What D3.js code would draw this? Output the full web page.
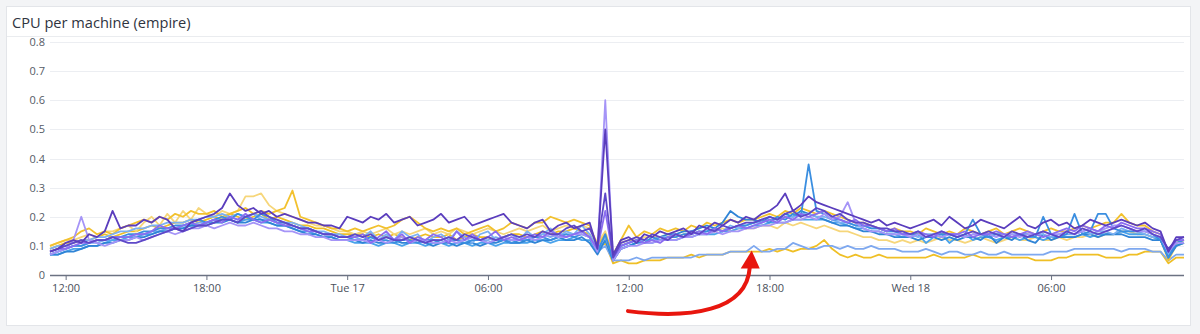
<!DOCTYPE html>
<html>
<head>
<meta charset="utf-8">
<script src="https://cdn.jsdelivr.net/npm/d3@7"></script>
<style>
  html, body { margin: 0; padding: 0; background: #f3f4f6; }
  svg { display: block; }
</style>
</head>
<body>
<svg id="chart" width="1200" height="334"></svg>
<script>
// ---------- DATA (CPU values in percent, one sample every 20 minutes) ----------
const title = "CPU per machine (empire)";
const startTime = new Date(2019, 8, 16, 11, 20); // Mon 16, 11:20
const stepMinutes = 20;
const yTicks = [0, 0.1, 0.2, 0.3, 0.4, 0.5, 0.6, 0.7, 0.8];

const seriesNames = ["m01","m02","m03","m04","m05","m06","m07","m08","m09","m10","m11","m12"];
const seriesColors = ["#5a3dbd","#5e48c8","#8b6df0","#a594f7","#3a8ee0","#7bb0f2","#4aa3ec","#f2c12e","#f6d67a","#7ea8ef","#efbf25","#2f84d6"];

const cpu01 = [8,9,11,12,11,14,13,15,22,16, 17,17,19,18,20,19,16,15,18,19, 20,21,23,28,24,22,23,21,22,20, 21,20,19,18,18,17,17,16,20,19,
  18,20,19,21,18,19,20,17,18,19, 21,18,19,20,17,18,19,20,21,18, 17,16,18,19,15,17,18,16,17,18, 9,50,7,12,13,11,14,13,15,14,
  15,16,14,17,16,18,17,19,18,20, 19,21,22,24,28,22,24,27,25,24, 23,22,21,20,19,18,19,17,18,17, 16,17,18,19,17,20,18,16,17,19,
  18,17,16,18,20,17,16,18,19,17, 18,16,17,19,18,17,18,19,18,17, 18,16,15,8,13,13];
const cpu02 = [8,9,10,11,12,11,12,12,13,12, 11,11,12,13,14,15,16,15,16,17, 17,18,19,19,18,20,21,22,20,19, 18,17,16,16,15,14,14,13,13,14,
  13,14,12,13,12,12,13,12,11,12, 12,13,12,14,13,12,13,12,13,14, 13,14,13,15,14,14,16,17,15,16, 10,28,6,11,12,13,12,14,13,12,
  14,13,15,14,16,15,17,16,17,18, 18,19,20,19,21,22,20,21,23,22, 20,21,19,18,18,17,16,16,15,15, 14,15,13,14,15,14,13,14,15,14,
  15,14,13,15,14,13,14,15,14,13, 15,14,16,15,14,15,16,17,16,15, 16,14,13,9,12,13];
const cpu03 = [8,9,9,10,11,11,12,12,13,13, 13,14,14,15,17,16,16,17,18,17, 18,19,18,20,19,21,19,18,19,18, 17,17,16,15,15,14,14,13,13,13,
  14,11,13,15,12,14,11,13,12,14, 13,11,15,12,14,12,13,15,12,13, 12,13,14,13,15,14,13,14,15,13, 9,22,6,10,11,12,11,12,11,13,
  14,13,14,15,14,16,15,16,17,16, 17,18,19,18,20,19,21,20,21,22, 20,19,18,19,17,17,16,15,16,14, 14,15,14,13,15,14,14,15,13,14,
  14,15,14,13,14,15,14,13,14,15, 16,15,17,16,15,17,16,18,17,16, 16,15,14,8,12,12];
const cpu04 = [7,8,9,12,20,12,11,10,11,12, 12,13,12,13,14,15,14,15,16,16, 17,16,17,18,17,17,18,17,16,16, 15,15,14,14,13,13,12,12,12,12,
  12,11,12,11,12,13,11,12,12,11, 11,12,11,12,13,12,11,12,13,12, 12,13,12,13,14,13,13,14,14,13, 8,60,5,9,10,10,11,11,12,12,
  12,13,13,14,14,15,14,15,15,16, 16,17,17,18,18,19,19,20,19,21, 19,20,25,18,16,15,15,14,14,14, 13,14,13,14,13,14,14,13,14,14,
  14,13,14,14,13,14,14,15,14,14, 15,14,15,16,15,16,17,17,16,15, 15,14,13,8,11,11];
const cpu05 = [7,8,9,10,10,11,12,12,13,13, 14,14,15,15,16,16,17,17,18,19, 18,19,20,19,21,20,19,21,20,18, 18,17,16,16,15,14,14,13,13,12,
  12,13,12,12,11,12,12,11,12,12, 11,12,12,11,12,12,11,12,12,11, 12,12,13,13,12,13,14,13,14,13, 8,14,5,10,11,12,11,13,12,13,
  13,14,14,15,15,16,15,16,17,17, 18,19,18,20,19,21,20,38,22,21, 19,19,18,17,17,16,16,15,15,14, 14,14,13,14,14,14,13,14,19,14,
  13,14,14,13,14,14,13,20,14,13, 14,21,14,15,21,21,16,15,15,15, 15,14,12,6,11,12];
const cpu06 = [9,10,10,11,12,12,13,13,14,15, 15,16,16,17,17,18,18,18,19,19, 20,20,21,20,21,20,21,20,19,19, 18,18,17,16,15,15,14,14,13,14,
  13,15,12,14,12,15,13,14,11,13, 14,12,15,13,11,14,15,12,13,14, 12,15,13,14,16,13,15,14,17,14, 9,13,6,10,11,12,12,12,13,13,
  14,13,15,14,15,16,15,17,16,17, 18,18,19,19,20,20,21,21,20,20, 19,18,18,17,17,16,16,15,15,14, 14,13,14,14,13,14,14,13,14,14,
  14,14,13,14,14,13,14,14,13,14, 14,14,15,14,15,15,14,16,15,15, 14,13,13,7,12,12];
const cpu07 = [7,7,8,9,9,10,10,11,12,12, 13,13,14,14,15,15,16,16,17,17, 18,18,19,19,18,19,19,18,18,17, 17,16,15,15,14,13,13,12,12,11,
  11,11,10,11,11,10,11,11,10,11, 11,10,11,11,10,11,11,10,11,11, 11,11,12,12,11,12,12,13,12,12, 8,12,5,9,10,11,11,11,12,12,
  12,13,13,14,14,14,15,15,16,16, 17,17,18,18,18,19,19,19,19,19, 18,18,17,16,16,15,15,14,14,13, 13,14,11,13,14,11,13,14,12,13,
  13,12,13,13,12,13,13,12,13,13, 13,13,14,13,14,14,14,15,14,14, 14,13,12,6,10,11];
const cpu08 = [10,11,12,13,15,16,14,15,14,16, 17,18,19,18,20,19,21,20,22,21, 21,22,20,21,22,23,21,22,21,22, 23,29,20,19,18,17,16,16,15,16,
  15,16,17,16,17,19,20,18,16,15, 16,15,16,14,15,16,17,15,16,18, 17,16,18,18,20,19,18,19,18,17, 10,14,7,12,17,13,15,14,16,15,
  16,15,17,16,18,17,18,19,18,19, 19,20,21,20,22,21,23,22,21,22, 21,20,19,18,18,17,16,15,16,15, 15,14,16,15,14,15,14,16,15,14,
  15,16,14,15,16,15,14,15,16,15, 15,16,17,16,17,18,18,21,18,17, 17,15,14,5,11,12];
const cpu09 = [10,11,12,12,13,14,13,15,15,16, 17,15,18,20,17,21,18,22,19,23, 21,20,22,21,22,27,27,28,24,22, 21,20,19,18,17,17,16,15,15,14,
  15,14,15,16,14,15,14,15,16,14, 15,14,16,15,14,15,16,15,14,15, 16,15,16,17,15,16,17,16,17,16, 11,15,6,11,12,12,13,13,13,14,
  13,14,14,15,14,15,16,15,16,16, 16,17,17,16,18,17,18,17,16,17, 16,15,15,14,13,13,12,12,11,12, 11,12,11,12,13,12,12,11,12,13,
  12,11,12,13,12,12,13,12,12,13, 12,13,13,14,13,14,14,15,15,14, 14,13,12,5,10,11];
const cpu10 = [7,8,9,10,10,11,11,12,12,13, 13,14,14,15,15,16,16,17,17,18, 18,19,19,20,19,20,21,19,19,18, 18,17,16,16,15,14,14,13,13,13,
  12,13,12,13,12,12,13,12,12,12, 12,13,12,12,13,12,12,13,12,12, 12,13,13,14,13,14,14,14,15,13, 8,10,5,5,5,6,5,6,6,6,
  6,6,6,7,7,7,7,8,8,8, 10,8,8,9,9,11,10,9,9,10, 10,9,10,9,9,10,9,9,9,8, 8,8,9,8,7,8,8,7,7,8,
  7,7,8,7,7,7,7,7,8,8, 8,9,9,9,9,9,9,8,9,9, 9,8,8,5,7,7];
const cpu11 = [9,10,11,11,12,12,13,14,13,14, 15,15,16,17,16,17,18,18,19,18, 19,20,19,21,20,19,20,21,19,20, 19,18,17,17,16,16,15,14,14,14,
  14,13,14,13,14,13,12,13,14,13, 13,14,12,13,14,13,13,12,13,14, 14,13,14,15,14,15,15,16,15,14, 9,11,4,5,4,4,5,5,5,6,
  6,6,7,6,7,7,7,8,8,8, 8,8,9,8,9,8,9,9,10,12, 9,7,6,7,6,6,7,6,6,6, 6,6,6,7,6,6,6,6,7,6,
  6,6,6,6,6,6,5,5,5,6, 6,7,7,7,7,6,6,6,7,7, 8,8,8,4,6,6];
const cpu12 = [7,7,8,8,9,10,10,11,11,12, 12,13,13,14,15,15,16,16,17,17, 17,18,18,19,18,18,19,19,18,17, 17,16,15,14,14,13,13,12,12,12,
  11,12,11,11,12,11,11,12,11,10, 11,11,10,11,11,10,11,11,12,11, 11,12,11,12,12,13,12,12,13,11, 7,12,5,9,10,11,12,12,13,14,
  14,15,15,16,17,16,18,22,20,19, 19,18,20,19,21,20,22,21,20,19, 18,17,17,16,15,15,14,14,13,13, 13,12,13,13,12,13,12,13,13,12,
  14,11,13,12,14,12,11,14,12,13, 13,13,14,14,13,14,14,14,13,13, 13,12,12,6,10,11];

const seriesValues = [cpu01,cpu02,cpu03,cpu04,cpu05,cpu06,cpu07,cpu08,cpu09,cpu10,cpu11,cpu12];
// draw order (back to front)
const drawOrder = [10, 9, 8, 7, 6, 11, 5, 4, 3, 2, 1, 0];

// annotation arrow, in data coordinates (time, value)
const arrowStart = { t: new Date(2019, 8, 17, 11, 58), v: -0.124 };
const arrowTip   = { t: new Date(2019, 8, 17, 17, 12), v: 0.084 };

// ---------- CHART ----------
seriesValues.forEach((s, i) => { if (s.length !== 146) console.error("series", i, "length", s.length); });

const svg = d3.select("#chart");
const W = 1200, H = 334;
const plot = { left: 50, right: 1184, top: 42, bottom: 275 };
const font = "'Open Sans', 'Noto Sans', sans-serif";

svg.append("rect").attr("x", 0).attr("y", 0).attr("width", W).attr("height", H).attr("fill", "#f3f4f6");
svg.append("rect").attr("x", 6.5).attr("y", 6.5).attr("width", 1184).attr("height", 319)
  .attr("fill", "#ffffff").attr("stroke", "#e3e5e9");

svg.append("text").attr("x", 12).attr("y", 28).text(title)
  .attr("font-family", font).attr("font-size", 14.6).attr("fill", "#2f3440");
svg.append("line").attr("x1", 7).attr("x2", 1190).attr("y1", 36.5).attr("y2", 36.5)
  .attr("stroke", "#eaecef");

const times = seriesValues[0].map((_, i) => d3.timeMinute.offset(startTime, i * stepMinutes));
const x = d3.scaleTime().domain([times[0], times[times.length - 1]]).range([plot.left, plot.right]);
const y = d3.scaleLinear().domain([0, 0.8]).range([plot.bottom, plot.top]);

// grid
svg.append("g").selectAll("line").data(yTicks.filter(d => d > 0)).join("line")
  .attr("x1", plot.left).attr("x2", plot.right)
  .attr("y1", d => Math.round(y(d)) + 0.5).attr("y2", d => Math.round(y(d)) + 0.5)
  .attr("stroke", "#eceef2");

// y axis labels
const yAxis = d3.axisLeft(y).tickValues(yTicks).tickSize(0).tickPadding(4)
  .tickFormat(d => d === 0 ? "0" : d3.format(".1f")(d));
const gy = svg.append("g").attr("transform", `translate(${plot.left - 1},0)`).call(yAxis);
gy.select(".domain").remove();
gy.selectAll("text").attr("font-family", font).attr("font-size", 11).attr("fill", "#555b66");

// lines
const line = d3.line().x((d, i) => x(times[i])).y(d => y(d / 100));
const gl = svg.append("g").attr("fill", "none").attr("stroke-width", 1.8).attr("stroke-linejoin", "round");
drawOrder.forEach(si => {
  gl.append("path").datum(seriesValues[si]).attr("d", line).attr("stroke", seriesColors[si])
    .attr("data-name", seriesNames[si]);
});

// x axis
const fmt = d => d.getHours() === 0 ? d3.timeFormat("%a %d")(d) : d3.timeFormat("%H:%M")(d);
const xAxis = d3.axisBottom(x).ticks(d3.timeHour.every(6)).tickFormat(fmt).tickSize(5).tickPadding(4);
const gx = svg.append("g").attr("transform", `translate(0,${plot.bottom})`).call(xAxis);
gx.select(".domain").attr("stroke", "#6b7282").attr("stroke-width", 1.5).attr("d", `M${plot.left},0.5H${plot.right}`);
gx.selectAll(".tick line").attr("stroke", "#6b7282");
gx.selectAll("text").attr("font-family", font).attr("font-size", 11).attr("fill", "#4a505b");

// red annotation arrow
const sx = x(arrowStart.t), sy = y(arrowStart.v), tx = x(arrowTip.t), ty = y(arrowTip.v);
const baseY = ty + 17;
svg.append("path")
  .attr("d", `M${sx},${sy} C${sx + 62},${sy + 8} ${tx - 4},${sy} ${tx - 1},${baseY}`)
  .attr("fill", "none").attr("stroke", "#e8160e").attr("stroke-width", 4).attr("stroke-linecap", "round");
svg.append("path")
  .attr("d", `M${tx - 10},${baseY + 1} L${tx + 9},${baseY + 1} L${tx + 1},${ty} Z`)
  .attr("fill", "#e8160e");
</script>
</body>
</html>
